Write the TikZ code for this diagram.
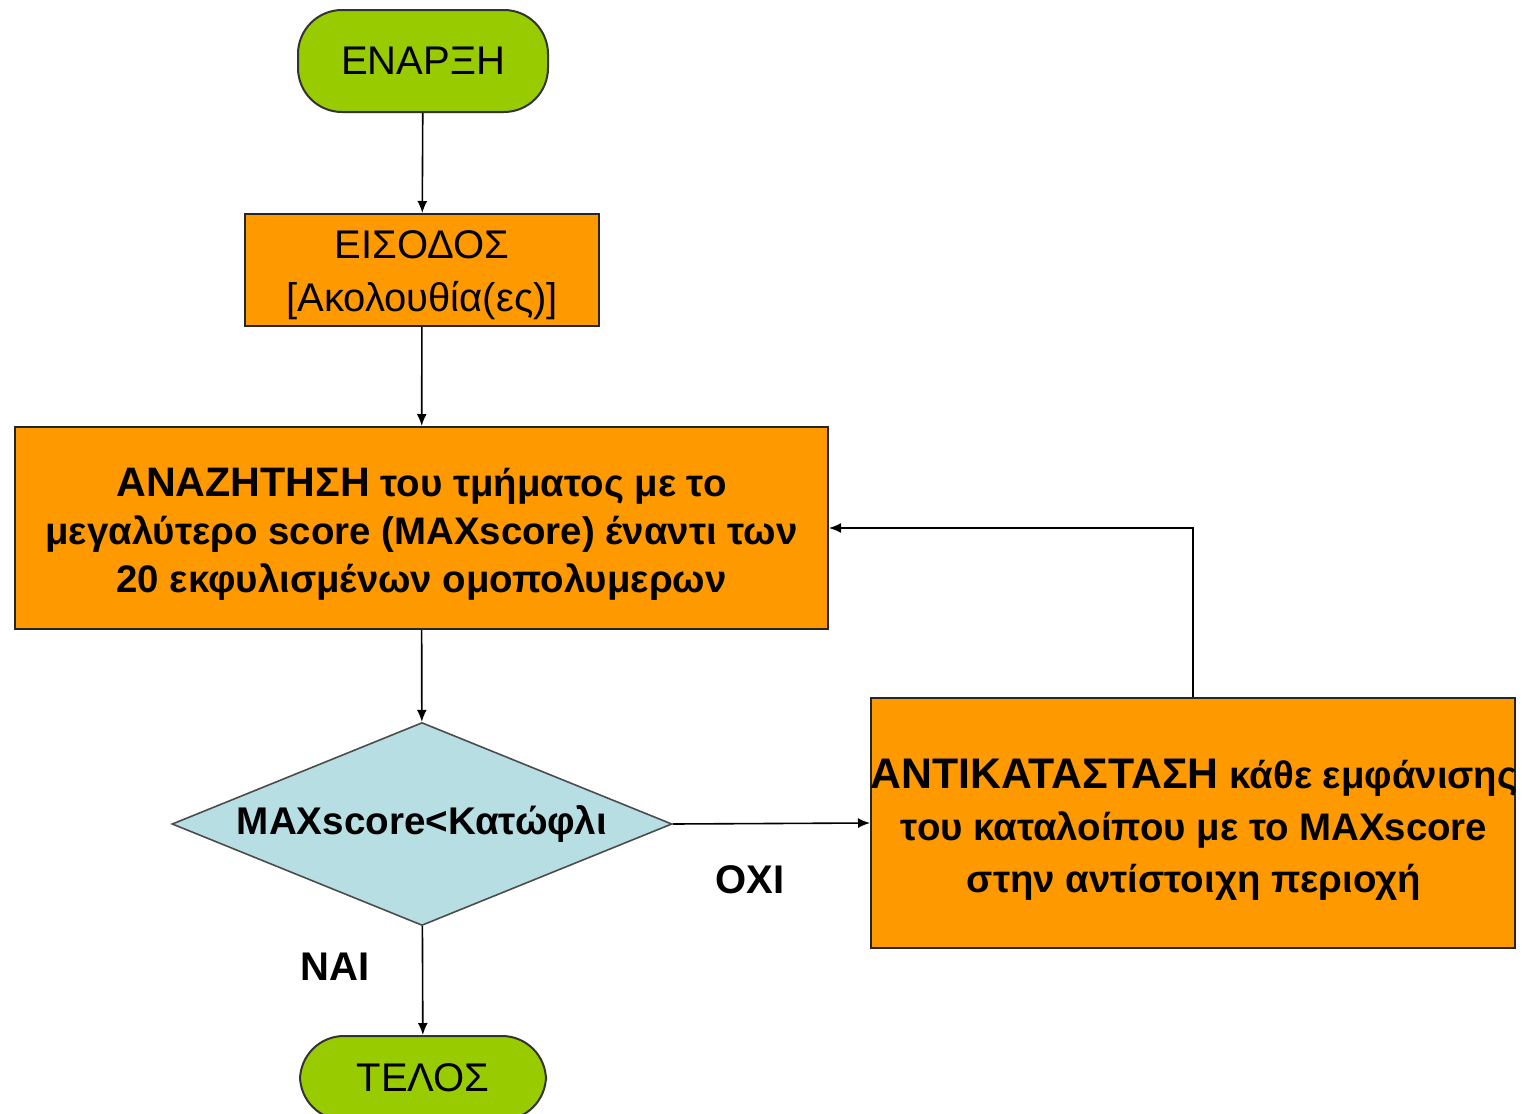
\documentclass[tikz,border=0pt]{standalone}
\usepackage{fontspec}
\setmainfont{Liberation Sans}
\usetikzlibrary{shapes.geometric,arrows.meta}
\definecolor{termgreen}{HTML}{99CC00}
\definecolor{procorange}{HTML}{FF9900}
\definecolor{decblue}{HTML}{B7DFE3}
\tikzset{
  terminal/.style={draw=black!80, line width=1pt, fill=termgreen, rounded corners=22pt,
    font=\fontsize{20}{24}\selectfont, inner sep=0pt},
  procbox/.style={draw=black!85, line width=1pt, fill=procorange, inner sep=0pt},
  boxtext/.style={align=center, inner sep=0pt},
  decision/.style={draw=black!70, line width=0.8pt, fill=decblue, diamond, shape aspect=2.46,
    inner sep=0pt, font=\bfseries\fontsize{19.3}{24}\selectfont},
  conn/.style={line width=0.8pt, -{Latex[length=6pt,width=5pt]}},
  answer/.style={font=\bfseries\fontsize{20}{24}\selectfont}
}
\begin{document}
\begin{tikzpicture}[x=0.5pt,y=-0.5pt]
\useasboundingbox (0,0) rectangle (1522,1114);
\node[terminal, minimum width=125pt, minimum height=51pt] (start) at (423,61) {ΕΝΑΡΞΗ};
\node[procbox, minimum width=177pt, minimum height=56pt] (input) at (422,270) {};
\node[boxtext, font=\fontsize{20}{26.5}\selectfont] (inputtxt) at (422,275) {ΕΙΣΟΔΟΣ\\{}[Ακολουθία(ες)]};
\node[procbox, minimum width=406.5pt, minimum height=101pt] (search) at (421.5,528) {};
\node[boxtext, font=\bfseries\fontsize{19.2}{24}\selectfont] (searchtxt) at (421.5,534)
  {{\fontsize{20.6}{24}\selectfont ΑΝΑΖΗΤΗΣΗ} του τμήματος με το\\μεγαλύτερο score (MAXscore) έναντι των\\20 εκφυλισμένων ομοπολυμερων};
\node[decision, minimum width=250pt, minimum height=101.5pt] (dec) at (422,824) {MAXscore<Κατώφλι};
\node[procbox, minimum width=322pt, minimum height=125pt] (repl) at (1193,823) {};
\node[boxtext, font=\bfseries\fontsize{19.2}{26}\selectfont] (repltxt) at (1194,830)
  {{\fontsize{21.4}{26}\selectfont ΑΝΤΙΚΑΤΑΣΤΑΣΗ} κάθε εμφάνισης\\του καταλοίπου με το MAXscore\\στην αντίστοιχη περιοχή};
\node[terminal, minimum width=123pt, minimum height=42pt] (end) at (423,1078) {ΤΕΛΟΣ};
\node[answer] (no) at (750,880) {ΟΧΙ};
\node[answer] (yes) at (335,967) {ΝΑΙ};
\draw[conn] (start) -- (input);
\draw[conn] (input) -- (search);
\draw[conn] (search) -- (dec);
\draw[conn] (dec) -- (end);
\draw[conn] (dec.east) -- (repl.west);
\draw[conn] (repl.north) |- (search.east);
\end{tikzpicture}
\end{document}
